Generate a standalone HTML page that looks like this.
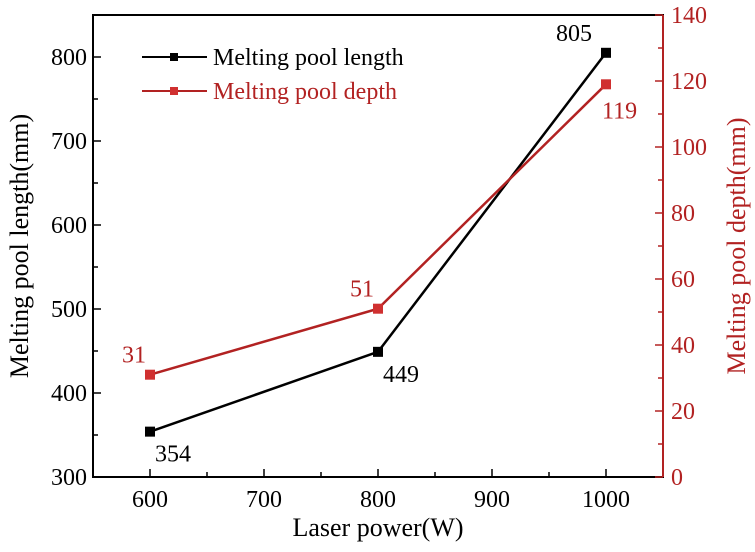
<!DOCTYPE html>
<html><head><meta charset="utf-8"><style>
body{margin:0;background:#fff}
svg text{font-family:"Liberation Serif",serif}
</style></head><body>
<svg id="c" width="755" height="547"></svg>
<script>
const powers=[600,800,1000];
const lengths=[354,449,805];
const depths=[31,51,119];
const xTicks=[600,700,800,900,1000];
const yLTicks=[300,400,500,600,700,800];
const yRTicks=[0,20,40,60,80,100,120,140];
const L=93,R=663,T=15,B=477,RED="#b22222";
const X=v=>L+(v-550)/500*(R-L);
const YL=v=>B-(v-300)/550*(B-T);
const YR=v=>B-v/140*(B-T);
const s=document.getElementById('c');const NS="http://www.w3.org/2000/svg";
function mk(t,a,txt){const e=document.createElementNS(NS,t);for(const k in a)e.setAttribute(k,a[k]);if(txt!=null)e.textContent=txt;s.appendChild(e);return e;}
let e;
e=mk('rect',{x:L,y:T,width:R-L,height:B-T,fill:'none',stroke:'#000','stroke-width':2});

e=mk('line',{x1:R,y1:T,x2:R,y2:B,stroke:RED,'stroke-width':2});

xTicks.forEach(v=>{mk('line',{x1:X(v),y1:B,x2:X(v),y2:B-8,stroke:'#000','stroke-width':1.5});
e=mk('text',{x:X(v),y:B+30,'text-anchor':'middle','font-size':24},v);

if(v<1000)mk('line',{x1:X(v+50),y1:B,x2:X(v+50),y2:B-5,stroke:'#000','stroke-width':1.5});});
yLTicks.forEach(v=>{mk('line',{x1:L,y1:YL(v),x2:L+8,y2:YL(v),stroke:'#000','stroke-width':1.5});
if(v<800)mk('line',{x1:L,y1:YL(v+50),x2:L+5,y2:YL(v+50),stroke:'#000','stroke-width':1.5});
e=mk('text',{x:L-6,y:YL(v)+8,'text-anchor':'end','font-size':24},v);
});
yRTicks.forEach(v=>{mk('line',{x1:R,y1:YR(v),x2:R-8,y2:YR(v),stroke:RED,'stroke-width':1.5});
if(v<140)mk('line',{x1:R,y1:YR(v+10),x2:R-5,y2:YR(v+10),stroke:RED,'stroke-width':1.5});
e=mk('text',{x:R+8,y:YR(v)+8,'font-size':24,fill:RED},v);
});
e=mk('text',{x:(L+R)/2,y:536,'text-anchor':'middle','font-size':26},'Laser power(W)');

e=mk('text',{x:0,y:0,'text-anchor':'middle','font-size':26,transform:`translate(28,${(T+B)/2}) rotate(-90)`},'Melting pool length(mm)');

e=mk('text',{x:0,y:0,'text-anchor':'middle','font-size':26,fill:RED,transform:`translate(745,${(T+B)/2}) rotate(-90)`},'Melting pool depth(mm)');

e=mk('polyline',{points:powers.map((p,i)=>X(p)+','+YL(lengths[i])).join(' '),fill:'none',stroke:'#000','stroke-width':2.5});

e=mk('polyline',{points:powers.map((p,i)=>X(p)+','+YR(depths[i])).join(' '),fill:'none',stroke:RED,'stroke-width':2.5});

const lOff=[[5,30,'start'],[5,30,'start'],[-14,-12,'end']];
const dOff=[[-4,-12,'end'],[-4,-12,'end'],[-4,34,'start']];
powers.forEach((p,i)=>{
e=mk('rect',{x:X(p)-5,y:YL(lengths[i])-5,width:10,height:10,fill:'#000'});

e=mk('text',{x:X(p)+lOff[i][0],y:YL(lengths[i])+lOff[i][1],'text-anchor':lOff[i][2],'font-size':24},lengths[i]);

e=mk('rect',{x:X(p)-5,y:YR(depths[i])-5,width:10,height:10,fill:'#d03030'});

e=mk('text',{x:X(p)+dOff[i][0],y:YR(depths[i])+dOff[i][1],'text-anchor':dOff[i][2],'font-size':24,fill:RED},depths[i]);
});
e=mk('line',{x1:142,y1:57,x2:207,y2:57,stroke:'#000','stroke-width':2});
mk('rect',{x:170,y:53,width:8,height:8,fill:'#000'});
e=mk('text',{x:213,y:65,'font-size':24},'Melting pool length');
e=mk('line',{x1:142,y1:91,x2:207,y2:91,stroke:RED,'stroke-width':2});
mk('rect',{x:170,y:87,width:8,height:8,fill:'#d03030'});
e=mk('text',{x:213,y:99,'font-size':24,fill:RED},'Melting pool depth');
</script>
</body></html>
